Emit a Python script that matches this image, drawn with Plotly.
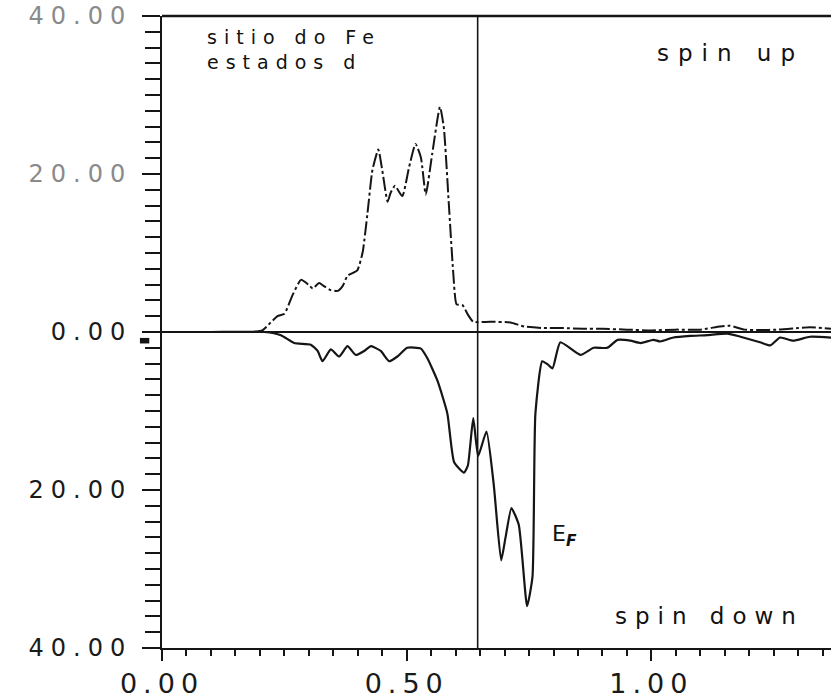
import plotly.graph_objects as go

# Fe site, d states: spin-resolved density of states
energy_up = [0.00, 0.10, 0.18, 0.205, 0.222, 0.236, 0.250, 0.267, 0.284, 0.299, 0.308,
             0.321, 0.331, 0.345, 0.359, 0.369, 0.379, 0.399, 0.410, 0.420, 0.430,
             0.442, 0.450, 0.461, 0.467, 0.476, 0.491, 0.505, 0.518, 0.529, 0.539,
             0.552, 0.568, 0.576, 0.586, 0.595, 0.602, 0.614, 0.625, 0.636, 0.671,
             0.712, 0.74, 0.78, 0.82, 0.86, 0.90, 0.95, 1.00, 1.05, 1.10, 1.14,
             1.16, 1.19, 1.22, 1.26, 1.30, 1.324, 1.367]
dos_up = [0.0, 0.0, 0.0, 0.2, 1.2, 2.0, 2.3, 4.7, 6.6, 6.0, 5.5,
          6.2, 5.8, 5.3, 5.2, 5.8, 7.1, 7.8, 10.1, 15.1, 20.5,
          23.1, 20.5, 16.5, 17.6, 18.5, 17.2, 20.9, 23.8, 22.1, 17.4,
          22.5, 28.5, 25.8, 16.3, 7.6, 3.5, 3.4, 2.2, 1.3, 1.3,
          1.2, 0.7, 0.5, 0.5, 0.4, 0.4, 0.3, 0.2, 0.3, 0.3, 0.7,
          0.8, 0.3, 0.25, 0.3, 0.5, 0.6, 0.4]

energy_dn = [0.00, 0.10, 0.209, 0.243, 0.270, 0.304, 0.318, 0.328, 0.345, 0.362,
             0.379, 0.396, 0.413, 0.427, 0.447, 0.464, 0.481, 0.501, 0.529, 0.542,
             0.563, 0.583, 0.597, 0.617, 0.625, 0.636, 0.646, 0.663, 0.678, 0.693,
             0.702, 0.714, 0.729, 0.746, 0.757, 0.763, 0.777, 0.788, 0.798, 0.814,
             0.855, 0.882, 0.910, 0.931, 0.957, 0.978, 1.004, 1.018, 1.045, 1.080,
             1.114, 1.155, 1.182, 1.222, 1.243, 1.263, 1.290, 1.324, 1.367]
dos_dn = [0.0, 0.0, 0.0, -0.4, -1.4, -1.6, -2.4, -3.7, -2.2, -3.1,
          -1.8, -2.9, -2.4, -1.8, -2.4, -3.7, -3.1, -2.0, -2.1, -3.3,
          -6.2, -10.3, -16.5, -17.8, -16.9, -10.9, -15.7, -12.6, -19.4, -28.9,
          -26.0, -22.3, -24.4, -34.7, -31.0, -10.3, -3.7, -4.1, -4.6, -1.3,
          -2.9, -2.0, -2.0, -1.0, -1.1, -1.4, -1.0, -1.2, -0.7, -0.5,
          -0.4, -0.2, -0.6, -1.3, -1.7, -0.7, -1.1, -0.6, -0.7]

fermi_energy = 0.645

x_tickvals = [0.0, 0.5, 1.0]
x_ticktext = ["0.00", "0.50", "1.00"]
y_tickvals = [-40, -20, 0, 20, 40]
y_ticktext = ["40.00", "20.00", "0.00", "20.00", "40.00"]

INK = "#151515"
FONT = "DejaVu Sans"


def spaced(s, px, color=None):
    style = f"letter-spacing:{px}px"
    if color:
        style += f";color:{color}"
    return f"<span style='{style}'>{s}</span>"


fig = go.Figure()
fig.add_trace(go.Scatter(x=energy_up, y=dos_up, mode="lines",
                         line=dict(color=INK, width=2.0, dash="14px,3px,3px,3px",
                                   shape="spline", smoothing=0.5),
                         showlegend=False))
fig.add_trace(go.Scatter(x=energy_dn, y=dos_dn, mode="lines",
                         line=dict(color=INK, width=2.2, shape="spline", smoothing=0.5),
                         showlegend=False))

# zero line, frame top, Fermi level
fig.add_shape(type="line", xref="paper", yref="y", x0=-0.026, x1=1, y0=0, y1=0,
              line=dict(color=INK, width=2))
fig.add_shape(type="line", xref="paper", yref="paper", x0=0, x1=1, y0=1, y1=1,
              line=dict(color=INK, width=2.5))
fig.add_shape(type="line", xref="x", yref="paper", x0=fermi_energy, x1=fermi_energy,
              y0=0, y1=1, line=dict(color=INK, width=1.6))
fig.add_shape(type="rect", xref="paper", yref="y", x0=-0.033, x1=-0.019, y0=-0.75, y1=-1.45,
              fillcolor=INK, line=dict(width=0))

y_labels = [spaced(t, 7, "#8a8a8a" if v > 0 else None) for v, t in zip(y_tickvals, y_ticktext)]
x_labels = [spaced(t, 6) for t in x_ticktext]

fig.update_xaxes(range=[0, 1.367], showline=True, linecolor=INK, linewidth=2,
                 showgrid=False, zeroline=False,
                 tickmode="array", tickvals=x_tickvals, ticktext=x_labels,
                 ticks="outside", ticklen=11, tickwidth=2, tickcolor=INK,
                 tickfont=dict(family=FONT, size=27, color="#1a1a1a"),
                 minor=dict(dtick=0.05, tick0=0, ticks="outside", ticklen=6,
                            tickwidth=2, tickcolor=INK, showgrid=False))
fig.update_yaxes(range=[-40, 40], showline=True, linecolor=INK, linewidth=2,
                 showgrid=False, zeroline=False,
                 tickmode="array", tickvals=y_tickvals, ticktext=y_labels,
                 ticks="outside", ticklen=18, tickwidth=2, tickcolor=INK,
                 ticklabelstandoff=5,
                 tickfont=dict(family=FONT, size=24, color="#1a1a1a"),
                 minor=dict(dtick=2, tick0=0, ticks="outside", ticklen=15,
                            tickwidth=2, tickcolor=INK, showgrid=False))

ann_font = dict(family=FONT, color="#111111")
fig.add_annotation(x=0.088, y=35.8, xref="x", yref="y", xanchor="left", yanchor="middle",
                   align="left",
                   text=spaced("sitio do Fe", 7) + "<br>" + spaced("estados d", 7),
                   showarrow=False, font=dict(size=19, **ann_font))
fig.add_annotation(x=1.315, y=35.3, xref="x", yref="y", xanchor="right", yanchor="middle",
                   text=spaced("spin up", 9), showarrow=False, font=dict(size=23, **ann_font))
fig.add_annotation(x=1.315, y=-35.9, xref="x", yref="y", xanchor="right", yanchor="middle",
                   text=spaced("spin down", 8), showarrow=False, font=dict(size=23, **ann_font))
fig.add_annotation(x=0.792, y=-25.8, xref="x", yref="y", xanchor="left", yanchor="middle",
                   text="E<sub><b><i>F</i></b></sub>", showarrow=False,
                   font=dict(size=22, **ann_font))

fig.update_layout(width=831, height=699, margin=dict(l=162, r=0, t=16, b=39),
                  paper_bgcolor="white", plot_bgcolor="white")

fig.write_html("out.html")
